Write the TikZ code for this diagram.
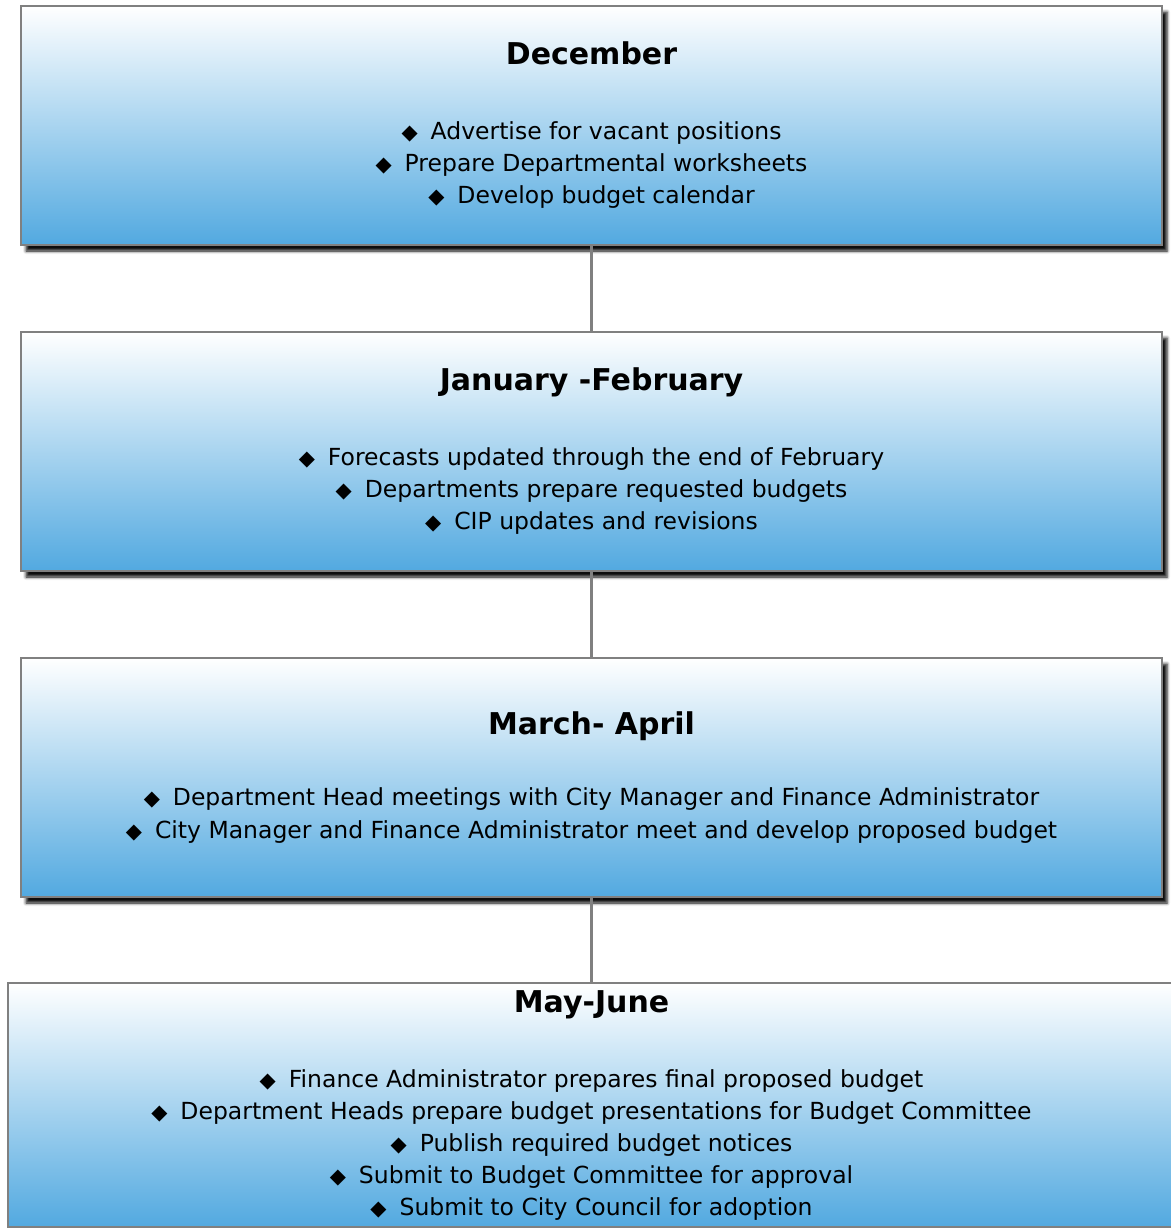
\documentclass[tikz,border=0pt]{standalone}
\usepackage{fontspec}
\setmainfont{DejaVu Sans}
\usetikzlibrary{positioning,shadows.blur}
\definecolor{boxblue}{RGB}{82,169,224}
\definecolor{boxline}{RGB}{128,128,128}
\newcommand{\bul}{{\fontsize{21}{21}\selectfont ◆}\hspace{13pt}}
\newcommand{\phasetitle}[1]{{\fontsize{30}{32}\selectfont\bfseries #1}}
\tikzset{
  phase/.style={rectangle, draw=boxline, line width=2pt, top color=white, bottom color=boxblue,
    minimum width=1141pt, minimum height=239pt, align=center, inner sep=0pt,
    font=\fontsize{23.5}{32}\selectfont,
    blur shadow={shadow xshift=5pt, shadow yshift=-6pt, shadow blur steps=4,
      shadow blur radius=3pt, shadow opacity=95}},
  link/.style={draw=boxline, line width=3.5pt}
}
\begin{document}
\begin{tikzpicture}[x=1pt,y=-1pt]
  \useasboundingbox (0,0) rectangle (1170,1228);
  \node[phase] (dec) at (591.5,125.5) {\phasetitle{December}\\[43pt]
    \bul Advertise for vacant positions\\
    \bul Prepare Departmental worksheets\\
    \bul Develop budget calendar};
  \node[phase, below=85pt of dec] (janfeb) {\phasetitle{January -February}\\[43pt]
    \bul Forecasts updated through the end of February\\
    \bul Departments prepare requested budgets\\
    \bul CIP updates and revisions};
  \node[phase, below=85pt of janfeb] (marapr) {\phasetitle{March- April}\\[39pt]
    \bul Department Head meetings with City Manager and Finance Administrator\\[1pt]
    \bul City Manager and Finance Administrator meet and develop proposed budget};
  \node[phase, minimum width=1168pt, minimum height=244pt, blur shadow={shadow opacity=0},
    below=84pt of marapr.south, anchor=north] (mayjun) {\phasetitle{May-June}\\[43pt]
    \bul Finance Administrator prepares final proposed budget\\
    \bul Department Heads prepare budget presentations for Budget Committee\\
    \bul Publish required budget notices\\
    \bul Submit to Budget Committee for approval\\
    \bul Submit to City Council for adoption};
  \draw[link] (dec.south) -- (janfeb.north);
  \draw[link] (janfeb.south) -- (marapr.north);
  \draw[link] (marapr.south) -- (mayjun.north);
\end{tikzpicture}
\end{document}
